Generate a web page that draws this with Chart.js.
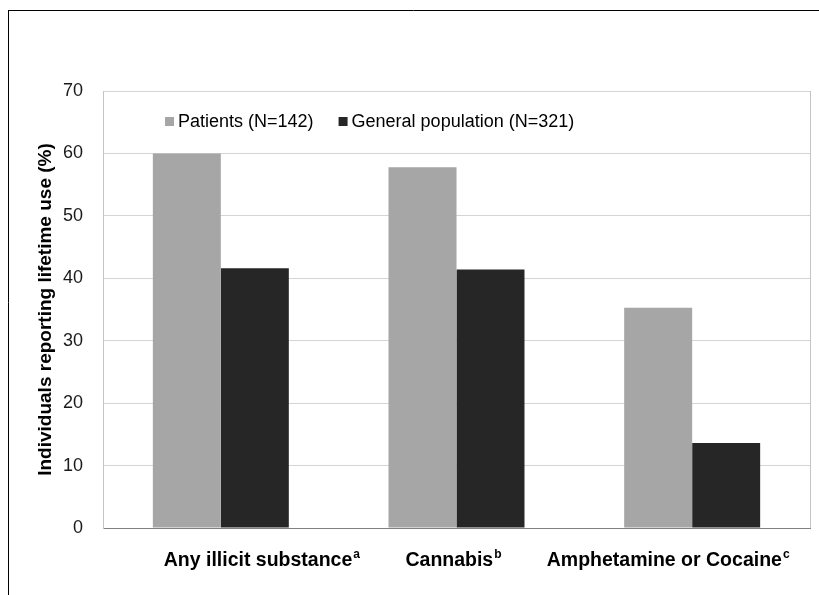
<!DOCTYPE html>
<html>
<head>
<meta charset="utf-8">
<script src="https://cdn.jsdelivr.net/npm/chart.js@4"></script>
<style>
  html, body { margin: 0; padding: 0; background: #fff; }
  canvas { display: block; }
</style>
</head>
<body>
<canvas id="chart" width="819" height="595"></canvas>
<script>
// Lifetime use of illicit substances, patients vs. general population
const categories = ['Any illicit substance', 'Cannabis', 'Amphetamine or Cocaine'];
const footnotes = ['a', 'b', 'c'];
const seriesNames = ['Patients (N=142)', 'General population (N=321)'];
const patients = [60.0, 57.8, 35.3];
const generalPopulation = [41.6, 41.4, 13.6];
const yAxisTitle = 'Individuals reporting lifetime use (%)';
const yMin = 0, yMax = 70, yStep = 10;

// presentation settings
const FONT = '"Liberation Sans", Arial, sans-serif';
const COLORS = ['#a6a6a6', '#262626'];
const LABEL_SHIFT = [41, -3, -24];   // horizontal nudge of each category label

const framePlugin = {
  id: 'frame',
  beforeDraw(chart) {
    const ctx = chart.ctx;
    ctx.save();
    ctx.strokeStyle = '#000';
    ctx.lineWidth = 1;
    ctx.beginPath();
    ctx.moveTo(8, 10.5); ctx.lineTo(chart.width, 10.5);
    ctx.moveTo(8.5, 10); ctx.lineTo(8.5, chart.height);
    ctx.stroke();
    ctx.restore();
  },
  beforeDatasetsDraw(chart) {
    const { ctx, chartArea } = chart;
    ctx.save();
    ctx.strokeStyle = '#c4c4c4';
    ctx.lineWidth = 1;
    ctx.beginPath();
    ctx.moveTo(Math.round(chartArea.right) + 0.5, chartArea.top);
    ctx.lineTo(Math.round(chartArea.right) + 0.5, chartArea.bottom);
    ctx.stroke();
    ctx.restore();
  },
  afterDraw(chart) {
    const ctx = chart.ctx;
    const xs = chart.scales.x;
    ctx.save();
    // category labels with footnote marks
    ctx.fillStyle = '#000';
    ctx.textBaseline = 'alphabetic';
    ctx.textAlign = 'left';
    const gap = 1;
    categories.forEach((name, i) => {
      ctx.font = 'bold 19.5px ' + FONT;
      const w1 = ctx.measureText(name).width;
      ctx.font = 'bold 12px ' + FONT;
      const w2 = ctx.measureText(footnotes[i]).width;
      const start = xs.getPixelForValue(i) + LABEL_SHIFT[i] - (w1 + w2 + gap) / 2;
      ctx.font = 'bold 19.5px ' + FONT;
      ctx.fillText(name, start, 566);
      ctx.font = 'bold 12px ' + FONT;
      ctx.fillText(footnotes[i], start + w1 + gap, 558);
    });
    // legend inside the plot area
    ctx.font = '18px ' + FONT;
    ctx.textBaseline = 'middle';
    let x = 165;
    chart.data.datasets.forEach((ds) => {
      ctx.fillStyle = ds.backgroundColor;
      ctx.fillRect(x, 117, 9, 9);
      ctx.fillStyle = '#000';
      ctx.fillText(ds.label, x + 13, 122);
      x += 13 + ctx.measureText(ds.label).width + 25;
    });
    ctx.restore();
  }
};

new Chart(document.getElementById('chart'), {
  type: 'bar',
  data: {
    labels: categories,
    datasets: [
      { label: seriesNames[0], data: patients, backgroundColor: COLORS[0], borderWidth: 0 },
      { label: seriesNames[1], data: generalPopulation, backgroundColor: COLORS[1], borderWidth: 0 }
    ]
  },
  options: {
    responsive: false,
    devicePixelRatio: 1,
    animation: false,
    layout: { padding: { left: 0, right: 9, top: 91, bottom: 67 } },
    datasets: { bar: { categoryPercentage: 0.577, barPercentage: 1.0 } },
    plugins: {
      legend: { display: false },
      tooltip: { enabled: false }
    },
    scales: {
      x: {
        z: 1,
        ticks: { display: false },
        grid: { display: false, drawTicks: false },
        border: { display: true, color: '#808080', width: 1 },
        afterFit(scale) { scale.height = 0; }
      },
      y: {
        min: yMin, max: yMax,
        ticks: {
          stepSize: yStep,
          color: '#1a1a1a',
          font: { family: FONT, size: 18 },
          padding: 20
        },
        grid: { color: '#d4d4d4', drawTicks: false, lineWidth: 1 },
        border: { display: true, color: '#c4c4c4', width: 1 },
        title: {
          display: true,
          text: yAxisTitle,
          color: '#000',
          font: { family: FONT, size: 19, weight: 'bold' },
          padding: { top: 34, bottom: 0 }
        },
        afterFit(scale) { scale.width = 103; }
      }
    }
  },
  plugins: [framePlugin]
});
</script>
</body>
</html>
